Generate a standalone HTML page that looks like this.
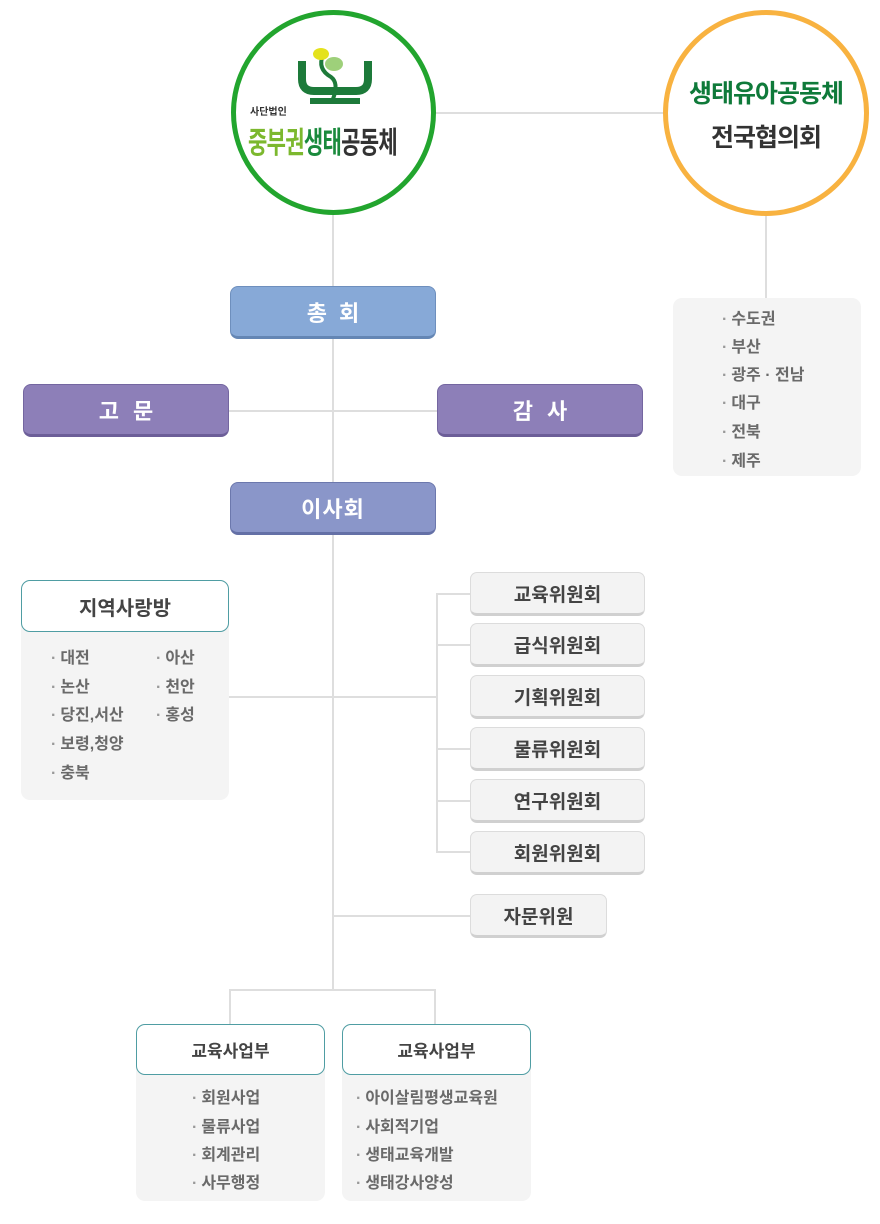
<!DOCTYPE html>
<html><head><meta charset="utf-8"><style>
*{margin:0;padding:0;box-sizing:border-box}
body{width:880px;height:1224px;background:#fff;position:relative;font-family:"Liberation Sans","Noto Sans CJK KR",sans-serif;overflow:hidden}
.a{position:absolute}
.ln{position:absolute;background:#dedede}
.c{position:absolute;border-radius:50%;background:#fff}
.btn{position:absolute;border-radius:8px;color:#fff;font-weight:bold;font-size:22px;display:flex;align-items:center;justify-content:center;letter-spacing:1px}
.cm{position:absolute;left:470px;width:175px;height:44px;background:#f3f3f3;border:1px solid #dcdcdc;border-bottom:3px solid #d0d0d0;border-radius:7px;font-weight:bold;font-size:19px;color:#444;display:flex;align-items:center;justify-content:center}
.gb{position:absolute;background:#f4f4f4;border-radius:9px}
.hd{position:absolute;background:#fff;border:1px solid #4f9da3;border-radius:9px;font-weight:bold;color:#444;display:flex;align-items:center;justify-content:center}
.it{position:absolute;font-size:16px;color:#6a6a6a;white-space:nowrap;font-weight:bold}
.it::before{content:"·";color:#999;margin-right:4px}
</style></head><body>
<div class="ln" style="left:433px;top:112px;width:233px;height:2px"></div>
<div class="ln" style="left:765px;top:215px;width:2px;height:83px"></div>
<div class="ln" style="left:332px;top:215px;width:2px;height:776px"></div>
<div class="ln" style="left:228px;top:410px;width:209px;height:2px"></div>
<div class="ln" style="left:228px;top:696px;width:209px;height:2px"></div>
<div class="ln" style="left:436px;top:593px;width:2px;height:260px"></div>
<div class="ln" style="left:436px;top:593px;width:34px;height:2px"></div>
<div class="ln" style="left:436px;top:644px;width:34px;height:2px"></div>
<div class="ln" style="left:436px;top:748px;width:34px;height:2px"></div>
<div class="ln" style="left:436px;top:800px;width:34px;height:2px"></div>
<div class="ln" style="left:436px;top:851px;width:34px;height:2px"></div>
<div class="ln" style="left:333px;top:915px;width:137px;height:2px"></div>
<div class="ln" style="left:229px;top:989px;width:207px;height:2px"></div>
<div class="ln" style="left:229px;top:989px;width:2px;height:35px"></div>
<div class="ln" style="left:434px;top:989px;width:2px;height:35px"></div>
<div class="c" style="left:231px;top:10px;width:205px;height:205px;border:5px solid #22a52e"></div>
<svg class="a" style="left:290px;top:45px" width="90" height="60" viewBox="0 0 90 60">
<path d="M12 16 v18 q0 12 12 12 h42 q12 0 12-12 v-18" fill="none" stroke="#1d7a3a" stroke-width="8"/>
<rect x="20" y="53" width="50" height="6" fill="#1d7a3a"/>
<path d="M33 10 q-6 14 8 22 q8 6 2 22" fill="none" stroke="#1d7a3a" stroke-width="4"/>
<ellipse cx="31" cy="9" rx="8" ry="6" fill="#e4e21c"/>
<ellipse cx="44" cy="19" rx="9" ry="7" fill="#9ed07a"/>
</svg>
<div class="a" style="left:250px;top:103px;font-size:10px;color:#333;font-weight:bold">사단법인</div>
<div class="a" style="left:248px;top:118px;font-size:30px;font-weight:bold;letter-spacing:-1px;white-space:nowrap;transform:scaleX(0.7);transform-origin:0 0"><span style="color:#7cb82e">중부권</span><span style="color:#1a8a3c">생태</span><span style="color:#333">공동체</span></div>
<div class="c" style="left:663px;top:10px;width:206px;height:206px;border:5px solid #f8b240"></div>
<div class="a" style="left:663px;top:74px;width:206px;text-align:center;font-size:25px;font-weight:bold;color:#0f7a3a;letter-spacing:-1px">생태유아공동체</div>
<div class="a" style="left:663px;top:118px;width:206px;text-align:center;font-size:25px;font-weight:bold;color:#333;letter-spacing:-1px">전국협의회</div>
<div class="gb" style="left:673px;top:298px;width:188px;height:178px"></div>
<div class="it" style="left:722px;top:305px">수도권</div>
<div class="it" style="left:722px;top:333px">부산</div>
<div class="it" style="left:722px;top:361px">광주 · 전남</div>
<div class="it" style="left:722px;top:389px">대구</div>
<div class="it" style="left:722px;top:418px">전북</div>
<div class="it" style="left:722px;top:447px">제주</div>
<div class="btn" style="left:230px;top:286px;width:206px;height:53px;background:#87a9d7;border:1px solid #6e8fbd;border-bottom:3px solid #6486b4;letter-spacing:12px;padding-left:12px">총회</div>
<div class="btn" style="left:23px;top:384px;width:206px;height:53px;background:#8d7fb8;border:1px solid #7466a0;border-bottom:3px solid #6c5e98;letter-spacing:14px;padding-left:14px">고문</div>
<div class="btn" style="left:437px;top:384px;width:206px;height:53px;background:#8d7fb8;border:1px solid #7466a0;border-bottom:3px solid #6c5e98;letter-spacing:14px;padding-left:14px">감사</div>
<div class="btn" style="left:230px;top:482px;width:206px;height:53px;background:#8a96c9;border:1px solid #6c78ad;border-bottom:3px solid #6470a6">이사회</div>
<div class="gb" style="left:21px;top:580px;width:208px;height:220px"></div>
<div class="hd" style="left:21px;top:580px;width:208px;height:52px;font-size:20px">지역사랑방</div>
<div class="it" style="left:51px;top:644px">대전</div>
<div class="it" style="left:51px;top:673px">논산</div>
<div class="it" style="left:51px;top:701px">당진,서산</div>
<div class="it" style="left:51px;top:730px">보령,청양</div>
<div class="it" style="left:51px;top:759px">충북</div>
<div class="it" style="left:156px;top:644px">아산</div>
<div class="it" style="left:156px;top:673px">천안</div>
<div class="it" style="left:156px;top:701px">홍성</div>
<div class="cm" style="top:572px">교육위원회</div>
<div class="cm" style="top:623px">급식위원회</div>
<div class="cm" style="top:675px">기획위원회</div>
<div class="cm" style="top:727px">물류위원회</div>
<div class="cm" style="top:779px">연구위원회</div>
<div class="cm" style="top:831px">회원위원회</div>
<div class="cm" style="top:894px;width:137px">자문위원</div>
<div class="gb" style="left:136px;top:1024px;width:189px;height:177px"></div>
<div class="hd" style="left:136px;top:1024px;width:189px;height:51px;font-size:17px">교육사업부</div>
<div class="it" style="left:192px;top:1084px">회원사업</div>
<div class="it" style="left:192px;top:1113px">물류사업</div>
<div class="it" style="left:192px;top:1141px">회계관리</div>
<div class="it" style="left:192px;top:1169px">사무행정</div>
<div class="gb" style="left:342px;top:1024px;width:189px;height:177px"></div>
<div class="hd" style="left:342px;top:1024px;width:189px;height:51px;font-size:17px">교육사업부</div>
<div class="it" style="left:356px;top:1084px">아이살림평생교육원</div>
<div class="it" style="left:356px;top:1113px">사회적기업</div>
<div class="it" style="left:356px;top:1141px">생태교육개발</div>
<div class="it" style="left:356px;top:1169px">생태강사양성</div>
</body></html>
